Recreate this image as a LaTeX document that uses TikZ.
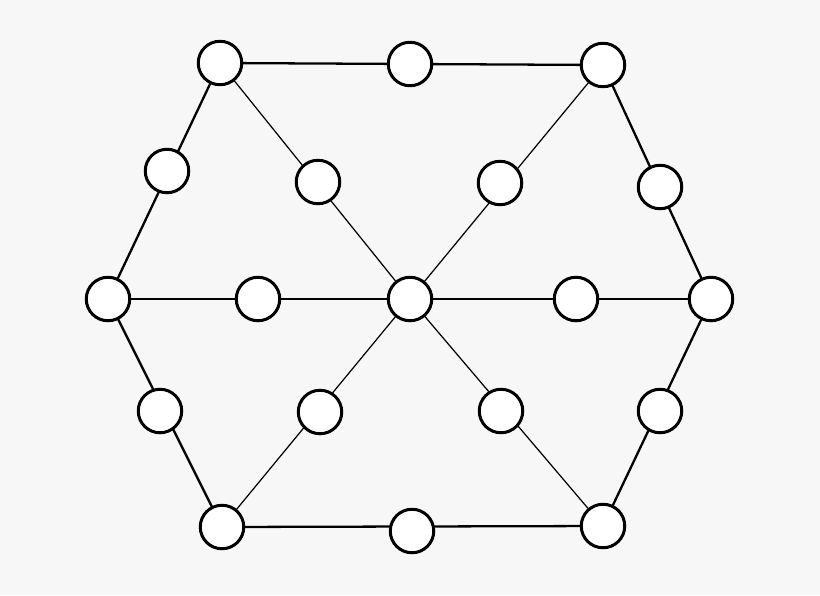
\documentclass[tikz,border=0pt]{standalone}
\usetikzlibrary{backgrounds}
\begin{document}
\begin{tikzpicture}[x=0.02cm,y=-0.02cm,
  vtx/.style={circle,draw=black,fill=white,line width=1.7pt,minimum size=0.87cm,inner sep=0pt},
  outer/.style={line width=1.3pt},
  spoke/.style={line width=0.7pt}]
\useasboundingbox (0,0) rectangle (820,595);
% nodes
\node[vtx] (TL) at (220,63) {};
\node[vtx] (T) at (410,64) {};
\node[vtx] (TR) at (603,65) {};
\node[vtx] (LU) at (167,171) {};
\node[vtx] (RU) at (660,187) {};
\node[vtx] (L) at (108,299) {};
\node[vtx] (R) at (711,299) {};
\node[vtx] (C) at (410,299) {};
\node[vtx] (LS) at (258,299) {};
\node[vtx] (RS) at (576,299) {};
\node[vtx] (ULS) at (318,182) {};
\node[vtx] (URS) at (500,183) {};
\node[vtx] (LLS) at (320,412) {};
\node[vtx] (LRS) at (501,411) {};
\node[vtx] (LD) at (160,411) {};
\node[vtx] (RD) at (660,411) {};
\node[vtx] (BL) at (222,527) {};
\node[vtx] (B) at (412,531) {};
\node[vtx] (BR) at (603,526) {};
\begin{pgfonlayer}{background}
\fill[black!3] (0,0) rectangle (820,595);
\draw[outer] (TL.center) -- (TR.center) -- (R.center) -- (BR.center) -- (BL.center) -- (L.center) -- cycle;
\draw[spoke] (TL.center) -- (C.center) -- (BR.center);
\draw[spoke] (TR.center) -- (C.center) -- (BL.center);
\draw[spoke] (L.center) -- (C.center) -- (R.center);
\end{pgfonlayer}
\end{tikzpicture}
\end{document}
